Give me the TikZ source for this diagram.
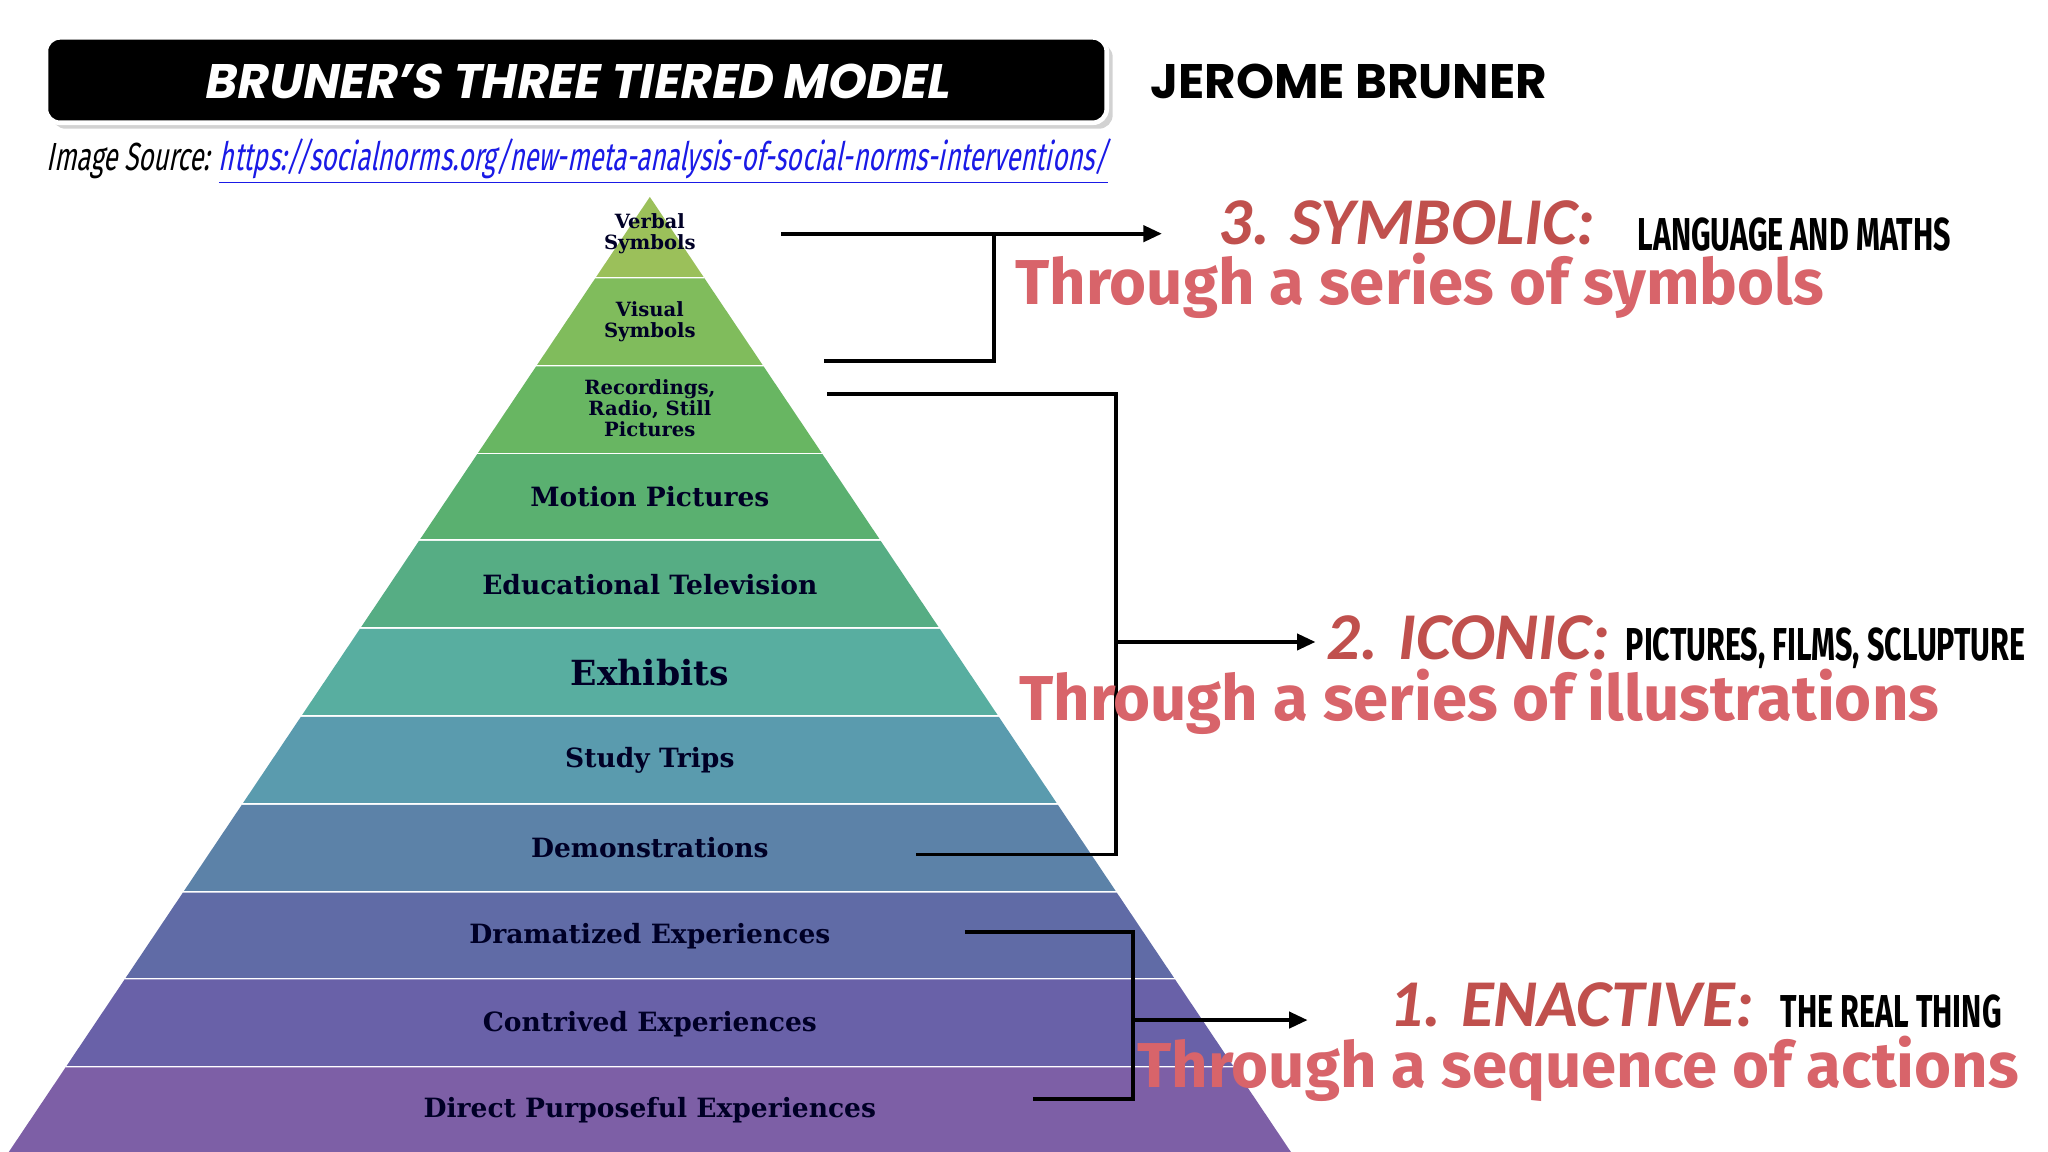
\documentclass[tikz,border=0pt]{standalone}
\usepackage{fontspec}
\setmainfont{DejaVu Serif}
\newfontfamily\gothic{Poppins}
\newfontfamily\cond{Fira Sans}[FakeStretch=0.66]
\newfontfamily\cali{Carlito}
\newfontfamily\berlin{Fira Sans}
\usetikzlibrary{arrows.meta,shadows}
\definecolor{c1}{HTML}{9BC05A}\definecolor{c2}{HTML}{80BC5C}\definecolor{c3}{HTML}{68B662}
\definecolor{c4}{HTML}{5AB070}\definecolor{c5}{HTML}{56AD84}\definecolor{c6}{HTML}{58AEA0}
\definecolor{c7}{HTML}{5A9BAE}\definecolor{c8}{HTML}{5C82A8}\definecolor{c9}{HTML}{606BA6}
\definecolor{c10}{HTML}{6961A8}\definecolor{c11}{HTML}{7D5FA6}
\definecolor{redt}{HTML}{C0504D}\definecolor{pinkt}{HTML}{D8646A}\definecolor{lnk}{HTML}{1A1AE6}
\tikzset{
 lab/.style={font=\bfseries\fontsize{11.5}{12}\selectfont,text=black!85!blue,align=center},
 small/.style={lab,font=\bfseries\fontsize{8.5}{9}\selectfont},
 conn/.style={line width=1.6pt},
 arr/.style={line width=1.6pt,-{Triangle[length=8pt,width=7pt]}},
 head/.style={anchor=base west,inner sep=0,text=redt,font=\cali\bfseries\itshape\fontsize{29}{31}\selectfont},
 desc/.style={anchor=base west,inner sep=0,font=\cond\bfseries\fontsize{20}{22}\selectfont},
 thr/.style={anchor=base west,inner sep=0,text=pinkt,font=\berlin\bfseries\fontsize{27.5}{29}\selectfont}}
\begin{document}
\begin{tikzpicture}[x=0.02cm,y=-0.02cm]
\useasboundingbox[fill=white] (0,0) rectangle (1560,877.5);
% title
\node[fill=black,draw=white,line width=2pt,rounded corners=6pt,minimum width=808*0.02cm,minimum height=65*0.02cm,drop shadow={opacity=0.35}] (tbox) at (439,61) {};
\node[text=white,font=\gothic\bfseries\fontsize{21}{23}\selectfont] (title) at (439,62) {\addfontfeature{FakeSlant=0.18}BRUNER’S THREE TIERED MODEL};
\node[anchor=west,font=\gothic\bfseries\fontsize{21}{23}\selectfont] (jb) at (870,62) {JEROME BRUNER};
\node[anchor=west,inner sep=0,font=\cond\fontsize{17}{19}\selectfont] (src) at (35,123) {\addfontfeature{FakeSlant=0.2}Image Source: \color{lnk}\underline{https://socialnorms.org/new-meta-analysis-of-social-norms-interventions/}};
% pyramid
\foreach \i/\ya/\yb in {1/150/212,2/212/279,3/279/346,4/346/412,5/412/479,6/479/546,7/546/613,8/613/680,9/680/746,10/746/813,11/813/880}{
  \pgfmathsetmacro\wa{(\ya-150)/730*490}
  \pgfmathsetmacro\wb{(\yb-150)/730*490}
  \fill[c\i] (495-\wa,\ya) -- (495+\wa,\ya) -- (495+\wb,\yb) -- (495-\wb,\yb) -- cycle;
  \draw[white,line width=1.5pt] (495-\wb,\yb) -- (495+\wb,\yb);
}
\node[small] (t1) at (495,178) {Verbal\\Symbols};
\node[small] (t2) at (495,245) {Visual\\Symbols};
\node[small] (t3) at (495,311) {Recordings,\\Radio, Still\\Pictures};
\node[lab] (t4) at (495,378) {Motion Pictures};
\node[lab] (t5) at (495,445) {Educational Television};
\node[lab,font=\bfseries\fontsize{15}{16}\selectfont] (t6) at (495,512) {Exhibits};
\node[lab] (t7) at (495,579) {Study Trips};
\node[lab] (t8) at (495,646) {Demonstrations};
\node[lab] (t9) at (495,713) {Dramatized Experiences};
\node[lab] (t10) at (495,780) {Contrived Experiences};
\node[lab] (t11) at (495,846) {Direct Purposeful Experiences};
% connectors
\coordinate (s1) at (595,178); \coordinate (s2) at (885,178);
\coordinate (s3) at (628,275); \coordinate (s4) at (757,275); \coordinate (s5) at (757,178);
\draw[arr] (s1) -- (s2);
\draw[conn] (s3) -- (s4) -- (s5);
\coordinate (i1) at (630,300); \coordinate (i2) at (850,300); \coordinate (i3) at (850,651); \coordinate (i4) at (698,651);
\coordinate (i5) at (850,489); \coordinate (i6) at (1002,489);
\draw[conn] (i1) -- (i2) -- (i3) -- (i4);
\draw[arr] (i5) -- (i6);
\coordinate (e1) at (735,710); \coordinate (e2) at (863,710); \coordinate (e3) at (863,837); \coordinate (e4) at (787,837);
\coordinate (e5) at (863,777); \coordinate (e6) at (996,777);
\draw[conn] (e1) -- (e2) -- (e3) -- (e4);
\draw[arr] (e5) -- (e6);
% headings
\node[head] (h3) at (928,186) {3. SYMBOLIC:};
\node[desc] (d3) at (1247,191) {LANGUAGE AND MATHS};
\node[thr] (r3) at (773,232) {Through a series of symbols};
\node[head] (h2) at (1010,502) {2. ICONIC:};
\node[desc] (d2) at (1238,503) {PICTURES, FILMS, SCLUPTURE};
\node[thr] (r2) at (776,549) {Through a series of illustrations};
\node[head] (h1) at (1058,782) {1. ENACTIVE:};
\node[desc] (d1) at (1356,783) {THE REAL THING};
\node[thr] (r1) at (866,828) {Through a sequence of actions};
\end{tikzpicture}
\end{document}
